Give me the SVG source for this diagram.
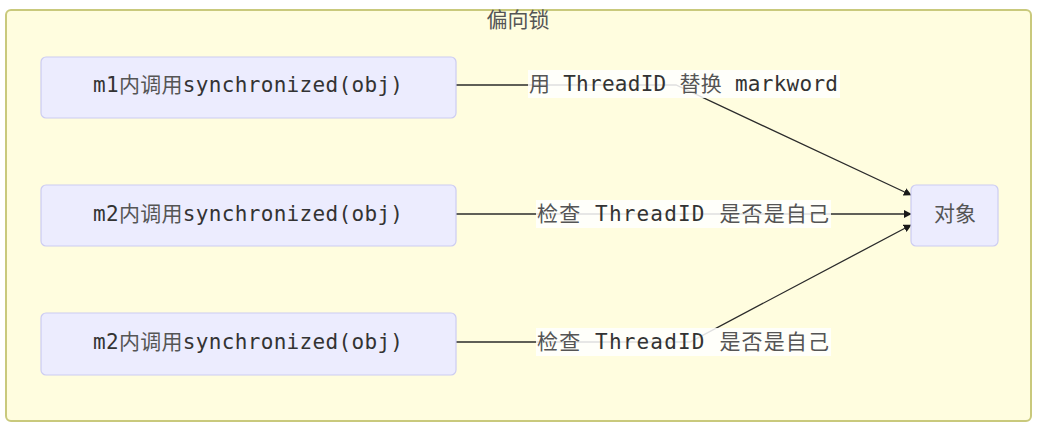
<svg xmlns="http://www.w3.org/2000/svg" width="1047" height="430" viewBox="0 0 1047 430">
<style>
.cluster{fill:#fffddf;stroke:#c9c97c;stroke-width:2}
.node rect{fill:#ececfe;stroke:#ccccf2;stroke-width:1.2}
.t{font-family:"DejaVu Sans Mono","Liberation Mono","Noto Sans CJK SC",monospace;font-size:21px;fill:#333}
.c{font-family:"Noto Sans CJK SC",sans-serif;fill:#555}
.edge{fill:none;stroke:#2b2b2b;stroke-width:1.3}
.lbg{fill:#ffffff;opacity:0.85}
</style>
<defs>
<marker id="arr" viewBox="0 0 10 10" refX="9" refY="5" markerWidth="8" markerHeight="8" orient="auto" markerUnits="userSpaceOnUse">
<path d="M0,0 L10,5 L0,10 z" fill="#1a1a1a"/>
</marker>
</defs>
<g id="cluster-bias">
<rect class="cluster" x="6" y="10" width="1025" height="411" rx="5"/>
<text x="518" y="27" text-anchor="middle" class="t c" font-size="20">偏向锁</text>
</g>
<g id="connectors">
<path class="edge" d="M456,85 L676,85 L911,195" marker-end="url(#arr)"/>
<path class="edge" d="M456,214 L911,214" marker-end="url(#arr)"/>
<path class="edge" d="M456,342 L690,342 L911,225" marker-end="url(#arr)"/>
<g id="label-1">
<rect class="lbg" x="528" y="70" width="312" height="28"/>
<text class="t" x="529" y="91" textLength="309" lengthAdjust="spacing"><tspan class="c">用</tspan> ThreadID <tspan class="c">替换</tspan> markword</text>
</g>
<g id="label-2">
<rect class="lbg" x="536" y="200" width="295" height="28"/>
<text class="t" x="537" y="221" textLength="292" lengthAdjust="spacing"><tspan class="c">检查</tspan> ThreadID <tspan class="c">是否是自己</tspan></text>
</g>
<g id="label-3">
<rect class="lbg" x="536" y="328" width="295" height="28"/>
<text class="t" x="537" y="349" textLength="292" lengthAdjust="spacing"><tspan class="c">检查</tspan> ThreadID <tspan class="c">是否是自己</tspan></text>
</g>
</g>
<g id="m1" class="node">
<rect x="41" y="57" width="415" height="61" rx="5"/>
<text class="t" x="93" y="92" textLength="310" lengthAdjust="spacing">m1<tspan class="c">内调用</tspan>synchronized(obj)</text>
</g>
<g id="m2a" class="node">
<rect x="41" y="185" width="415" height="61" rx="5"/>
<text class="t" x="93" y="221" textLength="310" lengthAdjust="spacing">m2<tspan class="c">内调用</tspan>synchronized(obj)</text>
</g>
<g id="m2b" class="node">
<rect x="41" y="313" width="415" height="62" rx="5"/>
<text class="t" x="93" y="349" textLength="310" lengthAdjust="spacing">m2<tspan class="c">内调用</tspan>synchronized(obj)</text>
</g>
<g id="obj" class="node">
<rect x="911" y="185" width="87" height="61" rx="5"/>
<text class="t c" x="955" y="221" text-anchor="middle">对象</text>
</g>
</svg>
